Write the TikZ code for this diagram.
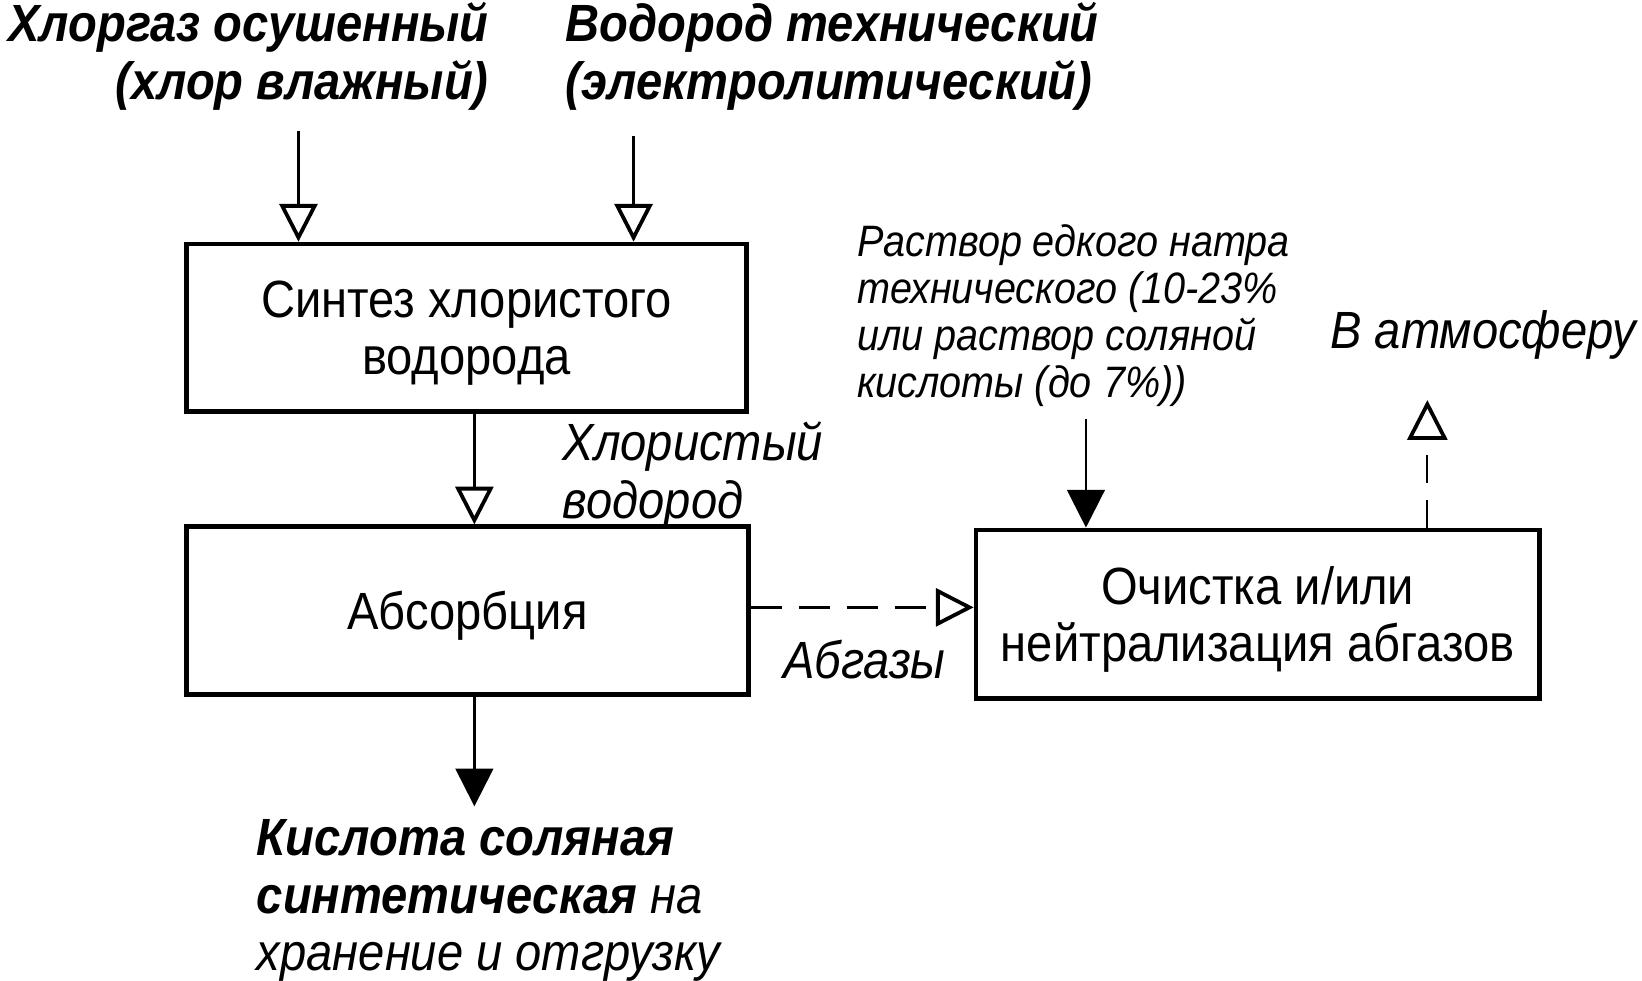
\documentclass[tikz,border=0pt]{standalone}
\usepackage{fontspec}
\setmainfont{Liberation Sans}[FakeStretch=0.9]
\usetikzlibrary{arrows.meta}
\newcommand\linesL[1]{\vtop{\tabskip=0pt\halign{##\hfil\cr#1\crcr}}}
\newcommand\linesR[1]{\vtop{\tabskip=0pt\halign{\hfil##\cr#1\crcr}}}
\newcommand\boxlines[1]{\raisebox{0pt}[\dimexpr\height+5pt\relax]{\vbox{\tabskip=0pt\halign{\hfil##\hfil\cr#1\crcr}}}}
\begin{document}
\begin{tikzpicture}[x=0.5pt,y=-0.5pt,
  box/.style={draw, line width=2.2pt, inner sep=0pt,
    font=\fontsize{25}{27}\selectfont},
  lbl/.style={inner sep=0pt, font=\fontsize{25}{27.5}\selectfont\itshape},
  sml/.style={inner sep=0pt, font=\fontsize{21}{22.5}\selectfont\itshape},
  openarr/.style={line width=1.1pt, -{Triangle[open, length=18pt, width=18pt, line width=1.8pt]}},
  fullarr/.style={line width=1.1pt, -{Triangle[length=18pt, width=18pt]}},
  dasharr/.style={line width=1.1pt, dash pattern=on 14.8pt off 8.1pt,
    -{Triangle[open, length=18pt, width=18pt, line width=1.8pt]}},
  dasharrv/.style={line width=1.1pt, dash pattern=on 13pt off 8.5pt,
    -{Triangle[open, length=19pt, width=19pt, line width=1.8pt, sep=2pt]}}]
\useasboundingbox (0,0) rectangle (1568,936);
% boxes
\node[box, minimum width=267.5pt, minimum height=80pt] (b1) at (445.5,313)
  {\boxlines{Синтез хлористого\cr водорода}};
\node[box, minimum width=268.5pt, minimum height=80pt] (b2) at (446.5,583)
  {\boxlines{Абсорбция}};
\node[box, minimum width=269pt, minimum height=80.5pt] (b3) at (1201,586.5)
  {\boxlines{Очистка и/или\cr нейтрализация абгазов}};
% labels
\node[lbl, anchor=base east, font=\fontsize{25}{27.5}\selectfont\bfseries\itshape] (t1) at (467,40)
  {\linesR{Хлоргаз осушенный\cr (хлор влажный)}};
\node[lbl, anchor=base west, font=\fontsize{25}{27.5}\selectfont\bfseries\itshape] (t2) at (540,40)
  {\linesL{Водород технический\cr (электролитический)}};
\node[lbl, anchor=base west] (t3) at (537,440)
  {\linesL{Хлористый\cr водород}};
\node[lbl, anchor=base west] (t4) at (748,648) {Абгазы};
\node[sml, anchor=base west] (t5) at (818,245)
  {\linesL{Раствор едкого натра\cr технического (10-23\%\cr или раствор соляной\cr кислоты (до 7\%))}};
\node[lbl, anchor=base west] (t6) at (1270,333) {В атмосферу};
\node[lbl, anchor=base west] (t7) at (245,817)
  {\linesL{\textbf{Кислота соляная}\cr \textbf{синтетическая} на\cr хранение и отгрузку}};
% coordinates
\coordinate (s1) at (285,125);
\coordinate (s2) at (605,130);
\coordinate (m) at (453,0);
\coordinate (e1) at (453,770);
\coordinate (s3) at (1037,400);
\coordinate (e2) at (1363,378);
\coordinate (h) at (0,580);
% connectors
\draw[openarr] (s1) -- (s1 |- b1.north);
\draw[openarr] (s2) -- (s2 |- b1.north);
\draw[openarr] (b1.south -| m) -- (b2.north -| m);
\draw[fullarr] (b2.south -| m) -- (e1);
\draw[fullarr] (s3) -- (s3 |- b3.north);
\draw[dasharr] (b2.east |- h) -- (b3.west |- h);
\draw[dasharrv] (b3.north -| e2) -- (e2);
\end{tikzpicture}
\end{document}
